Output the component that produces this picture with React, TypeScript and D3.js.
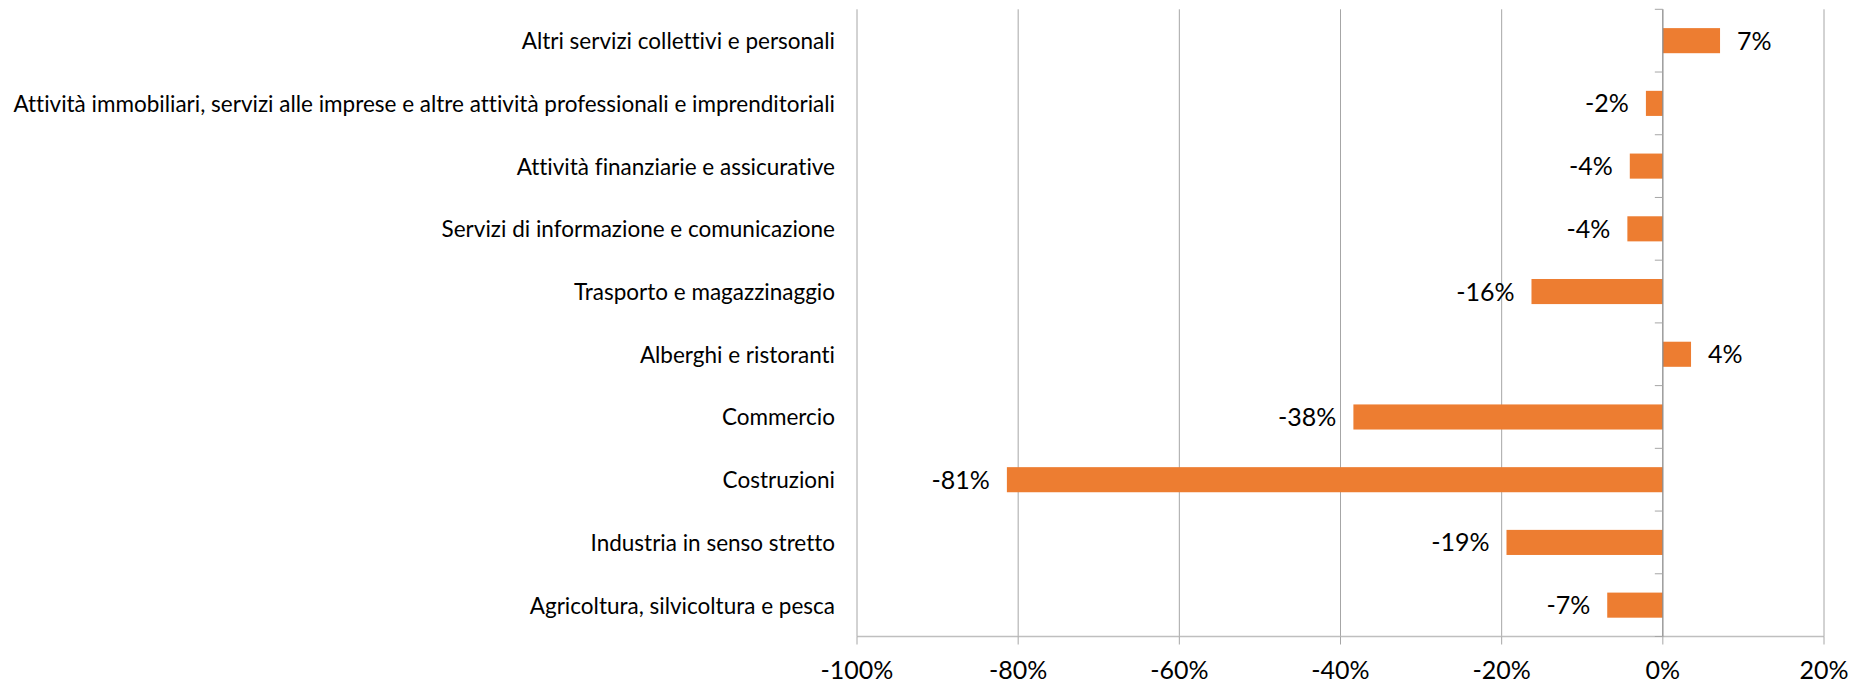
import React from "react";
import * as d3 from "d3";

const categories: string[] = [
  "Altri servizi collettivi e personali",
  "Attività immobiliari, servizi alle imprese e altre attività professionali e imprenditoriali",
  "Attività finanziarie e assicurative",
  "Servizi di informazione e comunicazione",
  "Trasporto e magazzinaggio",
  "Alberghi e ristoranti",
  "Commercio",
  "Costruzioni",
  "Industria in senso stretto",
  "Agricoltura, silvicoltura e pesca",
];

const values: number[] = [0.071, -0.021, -0.041, -0.044, -0.163, 0.035, -0.384, -0.814, -0.194, -0.069];

const xTicks: number[] = [-1, -0.8, -0.6, -0.4, -0.2, 0, 0.2];

const W = 1850;
const H = 683;
const FONT = "Lato, 'Liberation Sans', sans-serif";

const locale = d3.formatLocale({
  decimal: ".",
  thousands: ",",
  grouping: [3],
  currency: ["", ""],
  minus: "-",
});
const pct = locale.format(".0%");

export default function App() {
  const x = d3.scaleLinear().domain([-1, 0.2]).range([857, 1824]);
  const y = d3
    .scaleBand<string>()
    .domain(categories)
    .range([9.3, 636.5])
    .paddingInner(0.6)
    .paddingOuter(0.3);
  const step = y.step();
  const top = 9.3;
  const bottom = 636.5;
  const x0 = x(0);
  const boundaries = d3.range(categories.length + 1).map((i) => top + i * step);

  return (
    <svg
      width={W}
      height={H}
      style={{
        position: "absolute",
        left: 0,
        top: 0,
        background: "#fff",
        fontVariantLigatures: "none",
        fontFeatureSettings: '"liga" 0, "clig" 0',
      }}
      fontFamily={FONT}
    >
      {/* gridlines */}
      {xTicks
        .filter((t) => t !== 0)
        .map((t) => (
          <line key={"g" + t} x1={x(t)} x2={x(t)} y1={top} y2={bottom} stroke="#A6A6A6" strokeWidth={1} />
        ))}
      {/* bottom axis */}
      <line x1={x(-1)} x2={x(0.2)} y1={bottom} y2={bottom} stroke="#BFBFBF" strokeWidth={1.3} />
      {xTicks.map((t) => (
        <g key={"t" + t}>
          <line x1={x(t)} x2={x(t)} y1={bottom} y2={bottom + 8} stroke="#A6A6A6" strokeWidth={1} />
          <text x={x(t)} y={679} textAnchor="middle" fontSize={25} fill="#000">
            {pct(t)}
          </text>
        </g>
      ))}
      {/* bars */}
      {categories.map((c, i) => {
        const v = values[i];
        const bx = Math.min(x(v), x0);
        const bw = Math.abs(x(v) - x0);
        const cy = (y(c) as number) + y.bandwidth() / 2;
        return (
          <g key={c}>
            <rect x={bx} y={y(c)} width={bw} height={y.bandwidth()} fill="#ED7D31" />
            <text
              x={v >= 0 ? x(v) + 17 : x(v) - 17}
              y={cy + 9}
              textAnchor={v >= 0 ? "start" : "end"}
              fontSize={25}
              fill="#000"
            >
              {pct(Math.round(v * 100) / 100)}
            </text>
            <text x={835} y={cy + 8.5} textAnchor="end" fontSize={22.5} fill="#000">
              {c}
            </text>
          </g>
        );
      })}
      {/* vertical axis */}
      <line x1={x0} x2={x0} y1={top} y2={bottom} stroke="#8C8C8C" strokeWidth={1.3} />
      {boundaries.map((b, i) => (
        <line key={"b" + i} x1={x0 - 8} x2={x0} y1={b} y2={b} stroke="#A6A6A6" strokeWidth={1} />
      ))}
    </svg>
  );
}
